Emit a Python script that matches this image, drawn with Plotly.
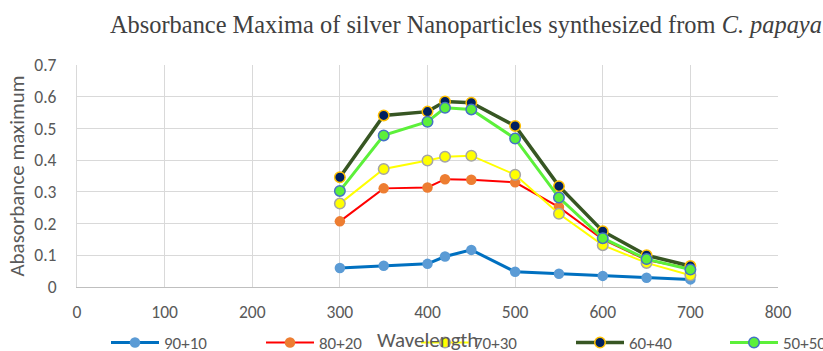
import plotly.graph_objects as go

wavelength = [300, 350, 400, 420, 450, 500, 550, 600, 650, 700]

s_90_10 = [0.060, 0.067, 0.073, 0.096, 0.117, 0.048, 0.042, 0.035, 0.029, 0.024]
s_80_20 = [0.207, 0.311, 0.314, 0.340, 0.338, 0.330, 0.252, 0.150, 0.085, 0.058]
s_70_30 = [0.263, 0.372, 0.399, 0.411, 0.414, 0.354, 0.231, 0.132, 0.076, 0.037]
s_60_40 = [0.346, 0.541, 0.553, 0.585, 0.581, 0.508, 0.318, 0.176, 0.100, 0.066]
s_50_50 = [0.303, 0.478, 0.521, 0.565, 0.560, 0.468, 0.282, 0.154, 0.088, 0.055]

names = ["90+10", "80+20", "70+30", "60+40", "50+50"]
series = [s_90_10, s_80_20, s_70_30, s_60_40, s_50_50]
line_colors = ["#0070C0", "#FF0000", "#FFFF00", "#375623", "#5CF03A"]
line_widths = [3, 2, 2, 3.5, 3]
marker_fill = ["#5B9BD5", "#ED7D31", "#FFFF00", "#002060", "#5CF03A"]
marker_edge = ["#5B9BD5", "#ED7D31", "#A5A5A5", "#FFC000", "#4472C4"]
marker_edge_w = [0, 0, 1.5, 1.5, 1.5]
legend_ids = ["legend", "legend", "legend", "legend", "legend2"]

x_ticks = [0, 100, 200, 300, 400, 500, 600, 700, 800]
y_ticks = [0, 0.1, 0.2, 0.3, 0.4, 0.5, 0.6, 0.7]

x_title = "Wavelength"
y_title = "Abasorbance maximum"

font_sans = "Calibri, Carlito, Liberation Sans, Arial, sans-serif"

fig = go.Figure()
for nm, ys, lc, lw, mf, me, mw, lg in zip(names, series, line_colors, line_widths,
                                          marker_fill, marker_edge, marker_edge_w, legend_ids):
    fig.add_trace(go.Scatter(
        x=wavelength, y=ys, name=nm, mode="lines+markers",
        line=dict(color=lc, width=lw),
        marker=dict(size=10.5, color=mf, line=dict(color=me, width=mw)),
        legend=lg,
    ))

legend_common = dict(
    orientation="h", xref="container", yref="container",
    xanchor="left", y=1 - 343 / 351, yanchor="middle",
    bgcolor="rgba(0,0,0,0)", itemwidth=48,
    entrywidth=92, entrywidthmode="pixels",
    font=dict(family=font_sans, size=17, color="#595959"),
    itemclick=False, itemdoubleclick=False,
)

# plot area in pixels: top 65, bottom 287 (height 222)
fig.update_layout(
    width=823, height=351,
    margin=dict(l=77, r=45, t=65, b=64, autoexpand=False),
    paper_bgcolor="white", plot_bgcolor="white",
    font=dict(family=font_sans, size=17.5, color="#595959"),
    title=dict(
        text="Absorbance Maxima of silver Nanoparticles synthesized from <i>C. papaya</i>",
        font=dict(family="Liberation Serif, Times New Roman, serif", size=24.4, color="#404040"),
        xref="container", x=110 / 823, xanchor="left",
        yref="container", y=1 - 24 / 351, yanchor="middle",
    ),
    xaxis=dict(
        range=[0, 800], tickvals=x_ticks, ticktext=[str(v) for v in x_ticks],
        showgrid=True, gridcolor="#D9D9D9", gridwidth=1,
        showline=True, linecolor="#BFBFBF", linewidth=1,
        zeroline=False, ticks="", ticklabelstandoff=9,
        tickfont=dict(size=17.5),
    ),
    yaxis=dict(
        range=[0, 0.7], tickvals=y_ticks, ticktext=["0", "0.1", "0.2", "0.3", "0.4", "0.5", "0.6", "0.7"],
        showgrid=True, gridcolor="#D9D9D9", gridwidth=1,
        showline=True, linecolor="#D9D9D9", linewidth=1,
        zeroline=False, ticks="", ticklabelstandoff=16,
        tickfont=dict(size=17.5),
        title=dict(text=y_title, standoff=3,
                   font=dict(family=font_sans, size=21, color="#595959")),
    ),
    annotations=[dict(
        text=x_title, xref="paper", x=0.5, xanchor="center",
        yref="paper", y=-(340 - 287) / 222, yanchor="middle",
        showarrow=False, font=dict(family=font_sans, size=21, color="#595959"),
    )],
    showlegend=True,
    legend=dict(x=106 / 823, **legend_common),
    legend2=dict(x=725 / 823, **legend_common),
)

fig.write_html("out.html")
